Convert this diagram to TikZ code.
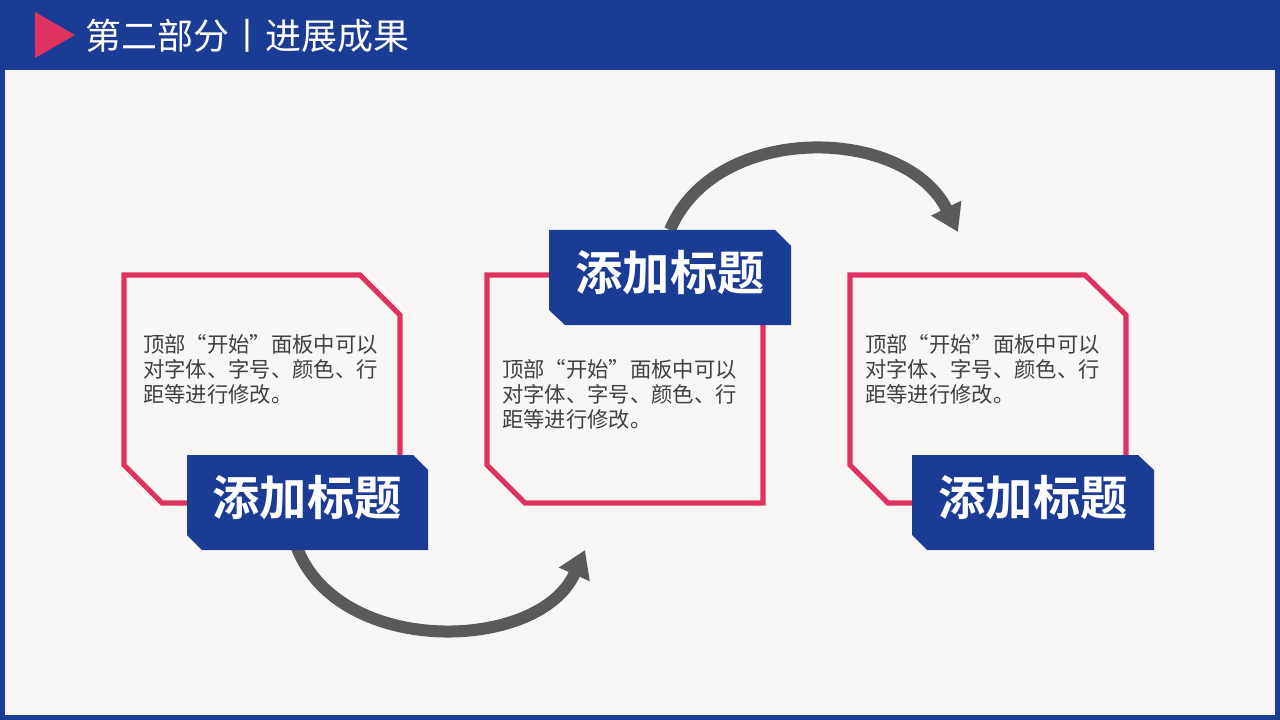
\documentclass[tikz,border=0pt]{standalone}
\usepackage{fontspec}
\setmainfont{Noto Sans CJK SC}
\newfontfamily\cjkb{Noto Sans CJK SC Bold}
\usetikzlibrary{arrows.meta}
\definecolor{myblue}{HTML}{1B3C95}
\definecolor{mypink}{HTML}{E0325F}
\definecolor{mybg}{HTML}{F8F7F5}
\definecolor{mygray}{HTML}{5A5A5A}
\definecolor{mytext}{HTML}{404040}
\tikzset{
 frame/.style={draw=mypink,line width=3.8pt,line join=miter},
 lab/.style={fill=myblue},
 labtext/.style={text=white,font=\cjkb\fontsize{35.5}{37}\selectfont,inner sep=0},
 body/.style={text=mytext,font=\fontsize{16}{18.75}\selectfont,align=left,anchor=north west,inner sep=0},
 arr/.style={draw=mygray,line width=9pt,-{Triangle[length=20pt,width=24pt]}}
}
\begin{document}
\begin{tikzpicture}[x=0.75pt,y=-0.75pt]
\useasboundingbox (0,0) rectangle (1280,720);
\fill[myblue] (0,0) rectangle (1280,720);
\fill[mybg] (5,70) rectangle (1275,715);
\fill[mypink] (35,12) -- (75,35) -- (35,58) -- cycle;
\node[text=white,font=\fontsize{27}{30}\selectfont,anchor=west,inner sep=0] (title) at (85,36) {第二部分丨进展成果};
% arrows
\coordinate (a1s) at (297,548); \coordinate (a1e) at (585,550);
\coordinate (a2s) at (670,230); \coordinate (a2e) at (958,232);
\draw[arr] (a1s) .. controls (340,658) and (540,652) .. (a1e);
\draw[arr] (a2s) .. controls (715,122) and (905,125) .. (a2e);
% box1
\draw[frame] (124,275) -- (360,275) -- (400,315) -- (400,503) -- (162,503) -- (124,465) -- cycle;
\node[body] (t1) at (143,334) {顶部“开始”面板中可以\\对字体、字号、颜色、行\\距等进行修改。};
\fill[lab] (187,455) -- (413,455) -- (428,470) -- (428,550) -- (202,550) -- (187,535) -- cycle;
\node[labtext] (l1) at (307,498) {添加标题};
% box2
\draw[frame] (487,275) -- (763,275) -- (763,503) -- (525,503) -- (487,465) -- cycle;
\node[body] (t2) at (502,359) {顶部“开始”面板中可以\\对字体、字号、颜色、行\\距等进行修改。};
\fill[lab] (549,230) -- (775,230) -- (791,246) -- (791,325) -- (565,325) -- (549,310) -- cycle;
\node[labtext] (l2) at (670,273) {添加标题};
% box3
\draw[frame] (850,275) -- (1085,275) -- (1126,315) -- (1126,503) -- (888,503) -- (850,465) -- cycle;
\node[body] (t3) at (865,334) {顶部“开始”面板中可以\\对字体、字号、颜色、行\\距等进行修改。};
\fill[lab] (912,455) -- (1138,455) -- (1154,470) -- (1154,550) -- (927,550) -- (912,535) -- cycle;
\node[labtext] (l3) at (1033,498) {添加标题};
\end{tikzpicture}
\end{document}
